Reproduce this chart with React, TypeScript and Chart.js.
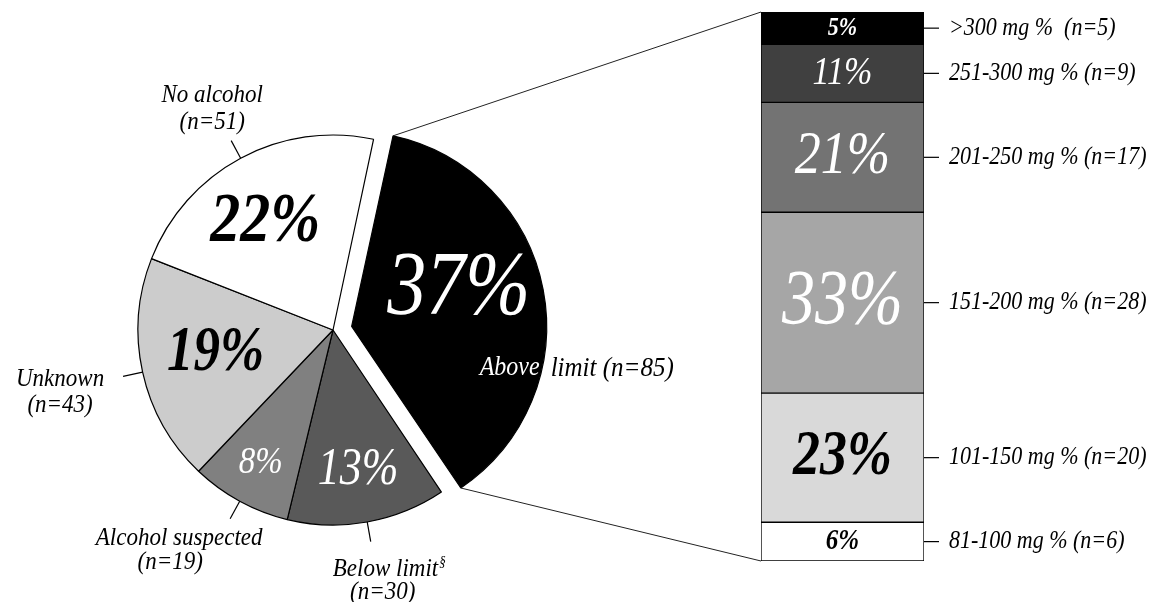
import React, { useEffect, useRef } from 'react';
import { Chart, registerables } from 'chart.js';

Chart.register(...registerables);

// ---------- data ----------
const pieCategories = ['Above limit', 'Below limit', 'Alcohol suspected', 'Unknown', 'No alcohol'];
const pieCounts = [85, 30, 19, 43, 51];
const piePercentLabels = ['37%', '13%', '8%', '19%', '22%'];

const barCategories = ['81-100 mg %', '101-150 mg %', '151-200 mg %', '201-250 mg %', '251-300 mg %', '>300 mg % '];
const barCounts = [6, 20, 28, 17, 9, 5];
const barPercentLabels = ['6%', '23%', '33%', '21%', '11%', '5%'];

// ---------- styles ----------
const FONT = '"Liberation Serif", "Times New Roman", serif';
const pieColors = ['#000000', '#595959', '#808080', '#cccccc', '#ffffff'];
const pieOffsets = [76, 0, 0, 0, 0];
const barColors = ['#ffffff', '#d9d9d9', '#a6a6a6', '#737373', '#404040', '#000000'];

const piePctStyle = [
  { r: 0.58, da: -8, size: 78, color: '#ffffff', bold: false },
  { r: 0.73, da: 0, size: 44, color: '#ffffff', bold: false },
  { r: 0.775, da: 0, size: 33, color: '#ffffff', bold: false },
  { r: 0.615, da: 1, size: 53, color: '#000000', bold: true },
  { r: 0.65, da: -4, size: 60, color: '#000000', bold: true },
];
// offsets of the outer label lines relative to the leader line end
const pieOuterStyle: Record<number, { dx: number; dy: number }[]> = {
  1: [{ dx: 18, dy: 28 }, { dx: 12, dy: 51 }],
  2: [{ dx: -51, dy: 19 }, { dx: -60, dy: 43 }],
  3: [{ dx: -63, dy: 3 }, { dx: -63, dy: 29 }],
  4: [{ dx: -19, dy: -45 }, { dx: -19, dy: -18 }],
};
const barPctStyle = [
  { size: 25, color: '#000000', bold: true },
  { size: 54, color: '#000000', bold: true },
  { size: 66, color: '#ffffff', bold: false },
  { size: 52, color: '#ffffff', bold: false },
  { size: 34, color: '#ffffff', bold: false },
  { size: 22, color: '#ffffff', bold: true },
];

function drawText(
  ctx: CanvasRenderingContext2D,
  s: string,
  x: number,
  y: number,
  size: number,
  color: string,
  opts: { bold?: boolean; align?: CanvasTextAlign; sy?: number } = {}
) {
  const { bold = false, align = 'center', sy = 1.12 } = opts;
  ctx.save();
  ctx.translate(x, y);
  ctx.scale(1, sy);
  ctx.font = `italic ${bold ? 'bold ' : ''}${size}px ${FONT}`;
  ctx.textAlign = align;
  ctx.textBaseline = 'middle';
  ctx.fillStyle = color;
  ctx.fillText(s, 0, 0);
  ctx.restore();
}

function arcGeometry(arc: any) {
  const off = (arc.options.offset || 0) / 4;
  const alpha = arc.endAngle - arc.startAngle;
  const fix = 1 - Math.sin(Math.min(Math.PI, alpha));
  const R = arc.outerRadius + off * fix;
  const half = (arc.startAngle + arc.endAngle) / 2;
  const cx = arc.x + Math.cos(half) * off;
  const cy = arc.y + Math.sin(half) * off;
  const beta = Math.max(0.001, alpha * R - (off * fix) / Math.PI) / R;
  const d = (alpha - beta) / 2;
  return { cx, cy, R, start: arc.startAngle + d, end: arc.endAngle - d, half, off };
}

const radiusFixPlugin = {
  id: 'radiusFix',
  afterDatasetsUpdate(chart: any) {
    const meta = chart.getDatasetMeta(0);
    const R = meta.controller.outerRadius;
    meta.data.forEach((arc: any) => {
      const off = (arc.options?.offset || 0) / 4;
      if (!off) return;
      const fix = 1 - Math.sin(Math.min(Math.PI, arc.endAngle - arc.startAngle));
      arc.outerRadius = R - off * fix;
    });
  },
};

const pieLabelPlugin = {
  id: 'pieLabels',
  afterDraw(chart: any) {
    const ctx: CanvasRenderingContext2D = chart.ctx;
    const meta = chart.getDatasetMeta(0);
    meta.data.forEach((arc: any, i: number) => {
      const g = arcGeometry(arc);
      const st = piePctStyle[i];
      const a = g.half + (st.da * Math.PI) / 180;
      const px = g.cx + Math.cos(a) * g.R * st.r;
      const py = g.cy + Math.sin(a) * g.R * st.r;
      drawText(ctx, piePercentLabels[i], px, py, st.size, st.color, { bold: st.bold, sy: 1.18 });

      if (i === 0) {
        const x0 = g.cx + 128;
        const y0 = g.cy + 42;
        drawText(ctx, 'Above', x0, y0, 24, '#ffffff', { align: 'left' });
        drawText(ctx, `limit (n=${pieCounts[0]})`, x0 + 71, y0, 25, '#000000', { align: 'left' });
        return;
      }
      // leader line
      const x1 = g.cx + Math.cos(g.half) * g.R;
      const y1 = g.cy + Math.sin(g.half) * g.R;
      const x2 = g.cx + Math.cos(g.half) * (g.R + 20);
      const y2 = g.cy + Math.sin(g.half) * (g.R + 20);
      ctx.save();
      ctx.strokeStyle = '#000';
      ctx.lineWidth = 1.2;
      ctx.beginPath();
      ctx.moveTo(x1, y1);
      ctx.lineTo(x2, y2);
      ctx.stroke();
      ctx.restore();
      const pos = pieOuterStyle[i];
      const nLine = `(n=${pieCounts[i]})`;
      if (i === 1) {
        ctx.save();
        ctx.font = `italic 23px ${FONT}`;
        const w = ctx.measureText(pieCategories[i]).width;
        ctx.font = `italic 13px ${FONT}`;
        const ws = ctx.measureText('§').width;
        ctx.restore();
        const left = x2 + pos[0].dx - (w + ws) / 2;
        drawText(ctx, pieCategories[i], left, y2 + pos[0].dy, 23, '#000', { align: 'left' });
        drawText(ctx, '§', left + w + 1, y2 + pos[0].dy - 7, 13, '#000', { align: 'left' });
      } else {
        drawText(ctx, pieCategories[i], x2 + pos[0].dx, y2 + pos[0].dy, 23, '#000');
      }
      drawText(ctx, nLine, x2 + pos[1].dx, y2 + pos[1].dy, 23, '#000');
    });
  },
};

function makeBarPlugin(getPie: () => any) {
  return {
    id: 'barLabels',
    afterDraw(chart: any) {
      const ctx: CanvasRenderingContext2D = chart.ctx;
      const n = chart.data.datasets.length;
      let top = Infinity;
      let bottom = -Infinity;
      let left = 0;
      for (let i = 0; i < n; i++) {
        const el: any = chart.getDatasetMeta(i).data[0];
        const yTop = Math.min(el.y, el.base);
        const yBot = Math.max(el.y, el.base);
        const xL = el.x - el.width / 2;
        const xR = el.x + el.width / 2;
        left = xL;
        top = Math.min(top, yTop);
        bottom = Math.max(bottom, yBot);
        const cy = (yTop + yBot) / 2;
        const st = barPctStyle[i];
        drawText(ctx, barPercentLabels[i], el.x, cy, st.size, st.color, { bold: st.bold, sy: 1.18 });
        ctx.save();
        ctx.strokeStyle = '#000';
        ctx.lineWidth = 1.2;
        ctx.beginPath();
        ctx.moveTo(xR, cy);
        ctx.lineTo(xR + 15, cy);
        ctx.stroke();
        ctx.restore();
        drawText(ctx, `${barCategories[i]} (n=${barCounts[i]})`, xR + 25, cy, 22, '#000', { align: 'left', sy: 1.15 });
      }
      const pie = getPie();
      if (pie) {
        const arc = pie.getDatasetMeta(0).data[0];
        const g = arcGeometry(arc);
        const sx = g.cx + Math.cos(g.start) * g.R;
        const sy = g.cy + Math.sin(g.start) * g.R;
        const ex = g.cx + Math.cos(g.end) * g.R;
        const ey = g.cy + Math.sin(g.end) * g.R;
        ctx.save();
        ctx.strokeStyle = '#222';
        ctx.lineWidth = 1;
        ctx.beginPath();
        ctx.moveTo(sx, sy);
        ctx.lineTo(left, top);
        ctx.moveTo(ex, ey);
        ctx.lineTo(left, bottom);
        ctx.stroke();
        ctx.restore();
      }
    },
  };
}

export default function App() {
  const pieRef = useRef<HTMLCanvasElement>(null);
  const barRef = useRef<HTMLCanvasElement>(null);

  useEffect(() => {
    if (!pieRef.current || !barRef.current) return;
    const pie = new Chart(pieRef.current, {
      type: 'pie',
      data: {
        labels: pieCategories,
        datasets: [
          {
            data: pieCounts,
            backgroundColor: pieColors,
            borderColor: '#000000',
            borderWidth: 1.2,
            offset: pieOffsets,
            radius: 195,
            rotation: 12,
          } as any,
        ],
      },
      options: {
        responsive: false,
        animation: false,
        events: [],
        rotation: 12,
        radius: 195,
        layout: { padding: { left: 0, right: 504, top: 58, bottom: 0 } },
        plugins: { legend: { display: false }, tooltip: { enabled: false } },
      } as any,
      plugins: [radiusFixPlugin, pieLabelPlugin],
    });

    const total = barCounts.reduce((a, b) => a + b, 0);
    const bar = new Chart(barRef.current, {
      type: 'bar',
      data: {
        labels: ['BAC'],
        datasets: barCounts.map((v, i) => ({
          label: barCategories[i],
          data: [v],
          backgroundColor: barColors[i],
          borderColor: '#000000',
          borderWidth: 1,
          borderSkipped: false,
          barPercentage: 1,
          categoryPercentage: 1,
        })),
      },
      options: {
        responsive: false,
        animation: false,
        events: [],
        layout: { padding: { left: 761, right: 246, top: 12, bottom: 41 } },
        scales: {
          x: { stacked: true, display: false },
          y: { stacked: true, display: false, min: 0, max: total },
        },
        plugins: { legend: { display: false }, tooltip: { enabled: false } },
      } as any,
      plugins: [makeBarPlugin(() => pie)],
    });

    return () => {
      bar.destroy();
      pie.destroy();
    };
  }, []);

  const canvasStyle: React.CSSProperties = { position: 'absolute', left: 0, top: 0, width: 1170, height: 602 };
  return (
    <div style={{ position: 'fixed', left: 0, top: 0, width: 1170, height: 602, background: '#ffffff', overflow: 'hidden' }}>
      <canvas ref={pieRef} width={1170} height={602} style={canvasStyle} />
      <canvas ref={barRef} width={1170} height={602} style={canvasStyle} />
    </div>
  );
}
